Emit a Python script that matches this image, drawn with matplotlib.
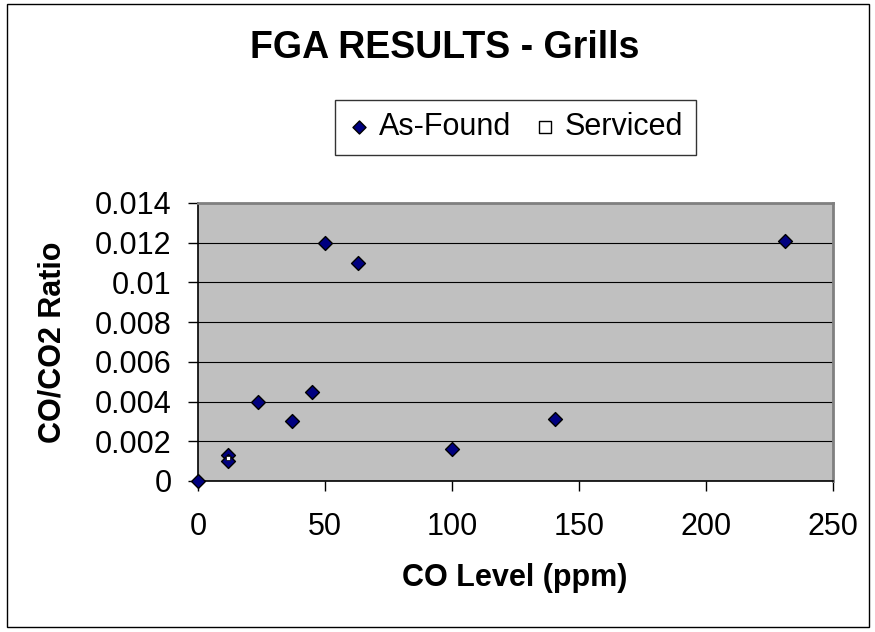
import matplotlib
matplotlib.use("Agg")
import matplotlib.pyplot as plt
from matplotlib.patches import Rectangle

# values
as_found_co = [0, 12, 12, 23.6, 37, 45, 50, 63, 100, 140.5, 231]
as_found_ratio = [0, 0.0013, 0.001, 0.004, 0.003, 0.0045, 0.012, 0.011, 0.0016, 0.0031, 0.0121]
serviced_co = [12]
serviced_ratio = [0.00115]

x_ticks = [0, 50, 100, 150, 200, 250]
y_ticks = [0, 0.002, 0.004, 0.006, 0.008, 0.01, 0.012, 0.014]
y_labels = ["0", "0.002", "0.004", "0.006", "0.008", "0.01", "0.012", "0.014"]

plt.rcParams["font.family"] = ["Liberation Sans", "DejaVu Sans"]

W, H = 875, 632
fig = plt.figure(figsize=(W / 100, H / 100), dpi=100)

def px(x, y):
    # pixel position (from top-left) -> figure fraction
    return x / W, 1 - y / H

# plot area in pixels: left 198, right 833, top 203, bottom 481
ax = fig.add_axes([198 / W, 1 - 481 / H, (833 - 198) / W, (481 - 203) / H])
ax.set_facecolor("#c0c0c0")

# chart-area border
fig.patches.append(Rectangle(px(7, 627), (869 - 7) / W, (627 - 4) / H,
                             transform=fig.transFigure, fill=False,
                             edgecolor="black", linewidth=1))

ax.scatter(as_found_co, as_found_ratio, marker="D", s=50, facecolor="#000080",
           edgecolor="black", linewidth=1, zorder=3, clip_on=False, label="As-Found")
ax.scatter(serviced_co, serviced_ratio, marker="s", s=8, facecolor="white",
           edgecolor="black", linewidth=0.5, zorder=4, clip_on=False, label="Serviced")

ax.set_xlim(0, 250)
ax.set_ylim(0, 0.014)
ax.set_xticks(x_ticks)
ax.set_xticklabels([str(t) for t in x_ticks])
ax.set_yticks(y_ticks)
ax.set_yticklabels(y_labels)
ax.tick_params(axis="both", labelsize=22, direction="out", length=7, width=1, colors="black")
ax.tick_params(axis="x", pad=15)
ax.tick_params(axis="y", pad=12)
ax.grid(axis="y", color="black", linewidth=0.8)
ax.set_axisbelow(True)
for side in ["top", "right"]:
    ax.spines[side].set_color("#808080")
    ax.spines[side].set_linewidth(2)
for side in ["left", "bottom"]:
    ax.spines[side].set_color("black")
    ax.spines[side].set_linewidth(1.2)

fig.text(*px(515, 578), "CO Level (ppm)", fontsize=22, fontweight="bold",
         ha="center", va="center")
fig.text(*px(53, 342), "CO/CO2 Ratio", fontsize=22, fontweight="bold",
         ha="center", va="center", rotation=90)
fig.text(*px(445, 48), "FGA RESULTS - Grills", fontsize=27, fontweight="bold",
         ha="center", va="center")

leg = fig.legend(loc="center", bbox_to_anchor=px(515.5, 127.5), ncol=2,
                 fontsize=22, frameon=True, fancybox=False, edgecolor="black",
                 handlelength=0.72, handletextpad=0.3, columnspacing=0.75,
                 borderpad=0.4)
leg.get_frame().set_linewidth(1)
leg.legend_handles[0].set_sizes([44])
leg.legend_handles[1].set_sizes([70])
leg.legend_handles[1].set_linewidth(1)

fig.savefig("out.png", dpi=100)
